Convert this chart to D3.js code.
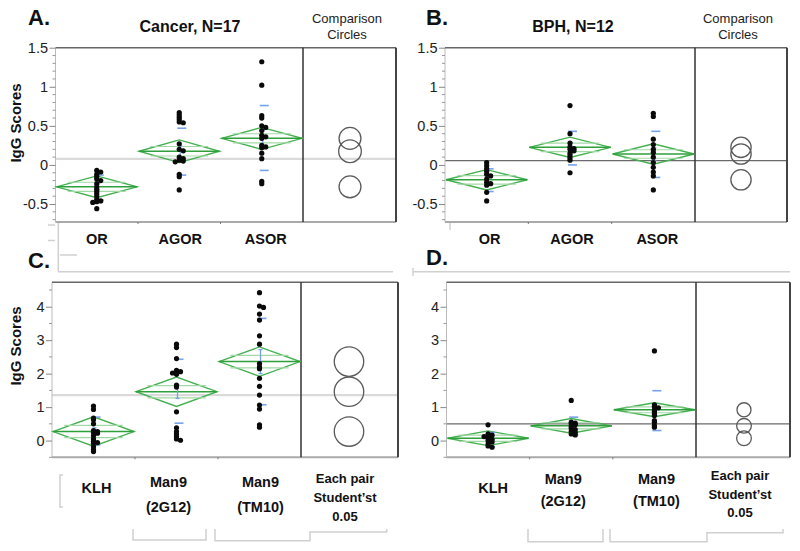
<!DOCTYPE html>
<html><head><meta charset="utf-8">
<script src="https://cdn.jsdelivr.net/npm/d3@7"></script>
<style>body{margin:0;background:#fff}svg{display:block;font-family:"Liberation Sans",Arial,Helvetica,sans-serif}</style>
</head><body><svg id="c" width="800" height="551"></svg>
<script>
// ---------------- DATA ----------------
const catsTop = ["OR", "AGOR", "ASOR"];
const catsBottom = [["KLH"], ["Man9", "(2G12)"], ["Man9", "(TM10)"]];
const compareTopLabel = ["Comparison", "Circles"];
const compareBottomLabel = ["Each pair", "Student\u2019st", "0.05"];
const ticksTop = [-0.5, 0, 0.5, 1, 1.5];
const tickLabelsTop = ["-0.5", "0", "0.5", "1", "1.5"];
const ticksBottom = [0, 1, 2, 3, 4];
const tickLabelsBottom = ["0", "1", "2", "3", "4"];
const titles = ["A.", "B.", "C.", "D."];
const subtitles = ["Cancer, N=17", "BPH, N=12"];
const yLabel = "IgG Scores";

// Panel A: Cancer, OR / AGOR / ASOR
const cancerOR   = [-0.07, -0.09, -0.12, -0.15, -0.18, -0.2, -0.24, -0.28, -0.31, -0.34, -0.37, -0.4, -0.44, -0.46, -0.47, -0.48, -0.56];
const cancerAGOR = [0.67, 0.64, 0.61, 0.58, 0.55, 0.54, 0.27, 0.2, 0.18, 0.1, 0.08, 0.06, 0.05, 0.04, -0.12, -0.15, -0.32];
const cancerASOR = [1.32, 1.02, 0.63, 0.6, 0.5, 0.48, 0.44, 0.38, 0.36, 0.34, 0.25, 0.23, 0.22, 0.15, 0.08, -0.21, -0.24];
const cancerTopMean = [-0.28, 0.175, 0.34];
const cancerTopCI   = [0.14, 0.145, 0.14];
const cancerTopSE   = [0.04, 0.07, 0.1];
const cancerTopSDlo = [-0.45, -0.13, -0.07];
const cancerTopSDhi = [-0.13, 0.47, 0.76];
const cancerTopGrand = 0.077;

// Panel B: BPH, OR / AGOR / ASOR
const bphOR   = [0.03, -0.01, -0.05, -0.08, -0.12, -0.14, -0.18, -0.22, -0.24, -0.26, -0.35, -0.46];
const bphAGOR = [0.76, 0.4, 0.28, 0.23, 0.21, 0.2, 0.18, 0.15, 0.12, 0.09, 0.06, -0.1];
const bphASOR = [0.66, 0.62, 0.33, 0.26, 0.2, 0.16, 0.1, 0.03, -0.03, -0.09, -0.14, -0.32];
const bphTopMean = [-0.19, 0.225, 0.14];
const bphTopCI   = [0.13, 0.13, 0.13];
const bphTopSE   = [0.04, 0.06, 0.08];
const bphTopSDlo = [-0.34, 0.0, -0.16];
const bphTopSDhi = [-0.05, 0.43, 0.43];
const bphTopGrand = 0.055;

// Panel C: Cancer, KLH / Man9 (2G12) / Man9 (TM10)
const cancerKLH  = [1.03, 0.93, 0.67, 0.62, 0.5, 0.3, 0.27, 0.25, 0.22, 0.15, 0.05, -0.02, -0.06, -0.08, -0.18, -0.27, -0.33];
const cancer2G12 = [2.88, 2.78, 2.45, 2.1, 2.06, 2.04, 2.02, 1.98, 1.66, 1.6, 0.86, 0.38, 0.27, 0.2, 0.12, 0.05, 0.01];
const cancerTM10 = [4.42, 4.02, 3.98, 3.78, 3.6, 3.13, 2.88, 2.3, 2.2, 2.15, 1.86, 1.62, 1.36, 1.06, 0.94, 0.47, 0.4];
const cancerBotMean = [0.27, 1.46, 2.36];
const cancerBotCI   = [0.44, 0.44, 0.44];
const cancerBotSE   = [0.11, 0.2, 0.36];
const cancerBotSDlo = [-0.13, 0.52, 1.07];
const cancerBotSDhi = [0.7, 2.43, 3.65];
const cancerBotGrand = 1.36;

// Panel D: BPH, KLH / Man9 (2G12) / Man9 (TM10)
const bphKLH  = [0.47, 0.2, 0.16, 0.14, 0.12, 0.08, 0.04, 0.0, -0.04, -0.1, -0.16, -0.2];
const bph2G12 = [1.2, 0.55, 0.52, 0.5, 0.47, 0.43, 0.37, 0.33, 0.28, 0.24, 0.2, 0.17];
const bphTM10 = [2.68, 1.07, 1.02, 0.98, 0.92, 0.87, 0.8, 0.75, 0.6, 0.55, 0.45, 0.4];
const bphBotMean = [0.07, 0.44, 0.92];
const bphBotCI   = [0.22, 0.22, 0.21];
const bphBotSE   = [0.06, 0.08, 0.17];
const bphBotSDlo = [-0.18, 0.17, 0.3];
const bphBotSDhi = [0.24, 0.7, 1.49];
const bphBotGrand = 0.5;

// ---------------- DRAWING ----------------
const svg = d3.select("#c");
const GREEN = "#44b050", GREEN_D = "#2f9f3b", GREEN_L = "#a3d9a7", BLUE = "#76a2ea";

function swarm(vals, y, cx) {
  const placed = [];
  const offs = [0, 4, -4, 7, -7, 10, -10];
  return vals.map(v => {
    const py = y(v);
    let ox = 0;
    for (const o of offs) {
      if (!placed.some(p => p.ox === o && Math.abs(p.py - py) < 1.6)) { ox = o; break; }
    }
    placed.push({ ox, py });
    return { x: cx + ox, y: py };
  });
}

function drawPanel(p) {
  const g = svg.append("g");
  const y = d3.scaleLinear().domain(p.domain).range([p.bottom, p.top]);
  const x = d3.scaleBand().domain([0, 1, 2]).range([p.left, p.div]).padding(0);

  // grand mean line
  g.append("line").attr("x1", p.left).attr("x2", p.right)
    .attr("y1", y(p.grand)).attr("y2", y(p.grand))
    .attr("stroke", p.darkGrand ? "#6a6a6a" : "#dadada")
    .attr("stroke-width", p.darkGrand ? 1.3 : 2.2);

  // frame
  g.append("line").attr("x1", p.left).attr("x2", p.left).attr("y1", p.top).attr("y2", p.bottom).attr("stroke", "#bbb").attr("stroke-width", 1);
  g.append("line").attr("x1", p.left).attr("x2", p.right).attr("y1", p.top).attr("y2", p.top).attr("stroke", "#666").attr("stroke-width", 1.4);
  g.append("line").attr("x1", p.left).attr("x2", p.right).attr("y1", p.bottom).attr("y2", p.bottom).attr("stroke", "#aaa").attr("stroke-width", 2);
  g.append("line").attr("x1", p.div).attr("x2", p.div).attr("y1", p.top).attr("y2", p.bottom).attr("stroke", "#333").attr("stroke-width", 1.5);
  g.append("line").attr("x1", p.right).attr("x2", p.right).attr("y1", p.top).attr("y2", p.bottom).attr("stroke", "#444").attr("stroke-width", 2);

  // y axis
  const axis = d3.axisLeft(y).tickValues(p.ticks).tickFormat((d, i) => p.tickLabels[i]).tickSize(6).tickPadding(1.5);
  const ag = g.append("g").attr("transform", `translate(${p.left},0)`).call(axis);
  ag.select(".domain").remove();
  ag.selectAll(".tick line").attr("stroke", "#888");
  ag.selectAll("text").attr("font-size", 14.5).attr("fill", "#222").attr("font-family", "Liberation Sans, Arial, sans-serif");
  const minor = d3.range(Math.ceil(p.domain[0] / p.minorStep), Math.floor(p.domain[1] / p.minorStep) + 1).map(k => k * p.minorStep)
    .filter(v => !p.ticks.some(t => Math.abs(t - v) < 1e-6));
  g.selectAll(".minor").data(minor).enter().append("line")
    .attr("x1", p.left - 3).attr("x2", p.left).attr("y1", d => y(d)).attr("y2", d => y(d))
    .attr("stroke", "#999").attr("stroke-width", 1);
  [1, 2].forEach(i => g.append("line").attr("x1", x(i)).attr("x2", x(i)).attr("y1", p.bottom).attr("y2", p.bottom + 2).attr("stroke", "#777"));

  // diamonds
  p.means.forEach((m, i) => {
    const x0 = x(i) + 1, x1 = x(i) + x.bandwidth() - 1, xc = x(i) + x.bandwidth() / 2;
    const ci = p.ci[i];
    const pts = [[x0, y(m)], [xc, y(m + ci)], [x1, y(m)], [xc, y(m - ci)]];
    g.append("polygon").attr("points", pts.map(d => d.join(",")).join(" "))
      .attr("fill", "none").attr("stroke", GREEN).attr("stroke-width", 1.4);
    const w = x1 - x0;
    [m + ci * 0.42, m - ci * 0.42].forEach(v => {
      g.append("line").attr("x1", x0 + w * 0.14).attr("x2", x1 - w * 0.14).attr("y1", y(v)).attr("y2", y(v))
        .attr("stroke", GREEN_L).attr("stroke-width", 1.2);
    });
    g.append("line").attr("x1", x0).attr("x2", x1).attr("y1", y(m)).attr("y2", y(m))
      .attr("stroke", GREEN_D).attr("stroke-width", 1.5);

    const bx = xc + 1;
    g.append("line").attr("x1", bx).attr("x2", bx).attr("y1", y(m - p.se[i])).attr("y2", y(m + p.se[i])).attr("stroke", BLUE).attr("stroke-width", 1.3);
    [m - p.se[i], m + p.se[i]].forEach(v => g.append("line").attr("x1", bx - 2).attr("x2", bx + 2).attr("y1", y(v)).attr("y2", y(v)).attr("stroke", BLUE).attr("stroke-width", 1.3));
    [p.sdLo[i], p.sdHi[i]].forEach(v => g.append("line").attr("x1", bx - 3).attr("x2", bx + 6).attr("y1", y(v)).attr("y2", y(v)).attr("stroke", BLUE).attr("stroke-width", 1.6));

    const dots = swarm(p.groups[i], y, xc);
    g.selectAll(null).data(dots).enter().append("circle")
      .attr("cx", d => d.x).attr("cy", d => d.y).attr("r", 2.6).attr("fill", "#0a0a0a");
  });

  // comparison circles
  p.means.forEach((m, i) => {
    g.append("circle").attr("cx", p.circX).attr("cy", y(m)).attr("r", Math.abs(y(m) - y(m + p.ci[i])))
      .attr("fill", "none").attr("stroke", "#5a5a5a").attr("stroke-width", 1.3);
  });

  // titles
  g.append("text").attr("x", p.titleX).attr("y", p.titleY).attr("font-size", 22).attr("font-weight", "bold").attr("fill", "#111").text(p.title);
  if (p.subtitle) {
    g.append("text").attr("x", p.subX).attr("y", 32).attr("text-anchor", "middle").attr("font-size", 16).attr("font-weight", "bold").attr("fill", "#111").text(p.subtitle);
    compareTopLabel.forEach((t, k) => g.append("text").attr("x", p.circX - 3).attr("y", 23 + k * 15.5)
      .attr("text-anchor", "middle").attr("font-size", 13).attr("fill", "#222").text(t));
  }
  if (p.yLabelY) {
    g.append("text").attr("transform", `translate(21,${p.yLabelY}) rotate(-90)`).attr("text-anchor", "middle")
      .attr("font-size", 15).attr("font-weight", "bold").attr("fill", "#111").text(yLabel);
  }

  p.cats.forEach((lines, i) => {
    const lx = x(i) + x.bandwidth() / 2 + p.labelShift[i];
    const arr = Array.isArray(lines) ? lines : [lines];
    arr.forEach((t, k) => g.append("text").attr("x", lx).attr("y", arr.length === 1 ? p.singleBase : p.multiBase[k])
      .attr("text-anchor", "middle").attr("font-size", 14.5).attr("font-weight", "bold").attr("fill", "#111").text(t));
  });
  if (p.compareBottom) {
    compareBottomLabel.forEach((t, k) => g.append("text").attr("x", p.circX - 4).attr("y", p.compareBase[k])
      .attr("text-anchor", "middle").attr("font-size", 13).attr("font-weight", "bold").attr("fill", "#111").text(t));
  }
}

const topDomain = [-0.73, 1.5];
const botDomain = [-0.5, 4.73];
drawPanel({ title: titles[0], titleX: 28, titleY: 25, subtitle: subtitles[0], subX: 190, yLabelY: 123,
  left: 55.5, div: 303, right: 396, top: 47.7, bottom: 222, domain: topDomain, ticks: ticksTop, tickLabels: tickLabelsTop, minorStep: 0.1,
  circX: 350, grand: cancerTopGrand, darkGrand: false, groups: [cancerOR, cancerAGOR, cancerASOR],
  means: cancerTopMean, ci: cancerTopCI, se: cancerTopSE, sdLo: cancerTopSDlo, sdHi: cancerTopSDhi,
  cats: catsTop, labelShift: [0, 1, 4], singleBase: 244 });
drawPanel({ title: titles[1], titleX: 426, titleY: 25, subtitle: subtitles[1], subX: 573,
  left: 445, div: 695, right: 787, top: 47.7, bottom: 222, domain: topDomain, ticks: ticksTop, tickLabels: tickLabelsTop, minorStep: 0.1,
  circX: 741, grand: bphTopGrand, darkGrand: true, groups: [bphOR, bphAGOR, bphASOR],
  means: bphTopMean, ci: bphTopCI, se: bphTopSE, sdLo: bphTopSDlo, sdHi: bphTopSDhi,
  cats: catsTop, labelShift: [3, 2, 4], singleBase: 244 });
drawPanel({ title: titles[2], titleX: 28, titleY: 268, yLabelY: 346,
  left: 52, div: 301, right: 398, top: 282.3, bottom: 457.3, domain: botDomain, ticks: ticksBottom, tickLabels: tickLabelsBottom, minorStep: 0.5,
  circX: 349, grand: cancerBotGrand, darkGrand: false, groups: [cancerKLH, cancer2G12, cancerTM10],
  means: cancerBotMean, ci: cancerBotCI, se: cancerBotSE, sdLo: cancerBotSDlo, sdHi: cancerBotSDhi,
  cats: catsBottom, labelShift: [3, -8, 1], singleBase: 493, multiBase: [487, 511.5],
  compareBottom: true, compareBase: [483, 502, 520.5] });
drawPanel({ title: titles[3], titleX: 426, titleY: 265,
  left: 446.5, div: 696, right: 790, top: 282.3, bottom: 457.3, domain: botDomain, ticks: ticksBottom, tickLabels: tickLabelsBottom, minorStep: 0.5,
  circX: 744, grand: bphBotGrand, darkGrand: true, groups: [bphKLH, bph2G12, bphTM10],
  means: bphBotMean, ci: bphBotCI, se: bphBotSE, sdLo: bphBotSDlo, sdHi: bphBotSDhi,
  cats: catsBottom, labelShift: [5, -8, 2], singleBase: 493, multiBase: [483.5, 505.5],
  compareBottom: true, compareBase: [480, 498.5, 517] });

// light-grey layout remnants of the original screenshot
const grey = svg.append("g").attr("stroke", "#d0d0d0").attr("stroke-width", 1.5).attr("fill", "none");
const paths = [
  "M48,225H55", "M48,240.5H55", "M58.3,223V271.7", "M60,255H77", "M58,271.7H393",
  "M450,223V230", "M413,271.7H790", "M413,268V276",
  "M63,475H60V507H63",
  "M133,529V540H206V529", "M215,529V540.7H310V532H386.7V529",
  "M528,529V541.7H603V529", "M610,529V541.7H707V532.7H783V529"
];
paths.forEach(d => grey.append("path").attr("d", d));
</script></body></html>
